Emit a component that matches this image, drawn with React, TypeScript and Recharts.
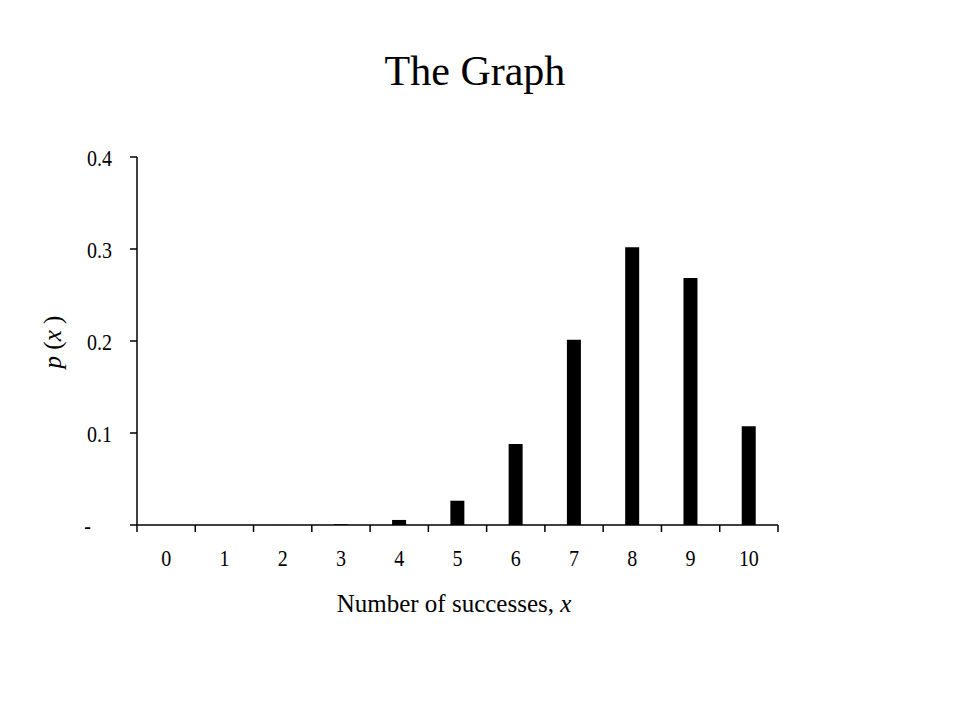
import { BarChart, Bar, XAxis, YAxis } from "recharts"

const successes = ["0", "1", "2", "3", "4", "5", "6", "7", "8", "9", "10"]
const probabilities = [0.0000001, 0.000004, 0.00007, 0.0008, 0.0055, 0.0264, 0.0881, 0.2013, 0.302, 0.2684, 0.1074]
const yTicks = [0, 0.1, 0.2, 0.3, 0.4]

const data = successes.map((x, i) => ({ x, p: probabilities[i] }))

const serif = "'Liberation Serif', 'Times New Roman', serif"

// the tick labels in the reference are a bit taller than they are wide
const TallText = ({ x, y, anchor, children }: any) => (
    <g transform={`translate(${x},${y}) scale(1,1.2)`}>
        <text x={0} y={0} textAnchor={anchor} dominantBaseline="central" fontFamily={serif} fontSize={20} fill="#000">
            {children}
        </text>
    </g>
)

const XTick = ({ x, y, payload, index }: any) => {
    const half = payload && payload.offset ? payload.offset : 641 / 22
    return (
        <g>
            <line x1={x - half} x2={x - half} y1={y} y2={y + 7} stroke="#000" strokeWidth={1.5} />
            {index === successes.length - 1 && (
                <line x1={x + half} x2={x + half} y1={y} y2={y + 7} stroke="#000" strokeWidth={1.5} />
            )}
            <TallText x={x} y={y + 33} anchor="middle">
                {payload.value}
            </TallText>
        </g>
    )
}

const YTick = ({ x, y, payload }: any) => {
    const zero = payload.value === 0
    return (
        <TallText x={zero ? x - 21 : x} y={y + 1} anchor="end">
            {zero ? "-" : payload.value.toFixed(1)}
        </TallText>
    )
}

export default function App() {
    return (
        <div style={{ position: "relative", width: 944, height: 704, background: "#fff" }}>
            <BarChart width={944} height={704} data={data} margin={{ top: 149, right: 174, bottom: 157, left: 69 }}>
                <XAxis
                    dataKey="x"
                    height={30}
                    tickLine={false}
                    tickSize={0}
                    tickMargin={0}
                    axisLine={{ stroke: "#000", strokeWidth: 1.5 }}
                    tick={<XTick />}
                    interval={0}
                />
                <YAxis
                    width={60}
                    domain={[0, 0.4]}
                    ticks={yTicks}
                    tickSize={7}
                    tickMargin={18}
                    tickLine={{ stroke: "#000", strokeWidth: 1.5 }}
                    axisLine={{ stroke: "#000", strokeWidth: 1.5 }}
                    tick={<YTick />}
                    interval={0}
                />
                <Bar dataKey="p" fill="#000" barSize={14} isAnimationActive={false} />
            </BarChart>
            <svg width={944} height={704} style={{ position: "absolute", left: 0, top: 0, pointerEvents: "none" }}>
                <text x={467} y={77} textAnchor="middle" fontFamily={serif} fontSize={42} fill="#000">
                    The Graph
                </text>
                <text x={446} y={604} textAnchor="middle" fontFamily={serif} fontSize={25} fill="#000">
                    Number of successes, <tspan fontStyle="italic">x</tspan>
                </text>
                <text
                    x={44}
                    y={334}
                    textAnchor="middle"
                    dominantBaseline="central"
                    transform="rotate(-90 44 334)"
                    fontFamily={serif}
                    fontSize={25}
                    fill="#000"
                >
                    <tspan fontStyle="italic">p</tspan> (<tspan fontStyle="italic">x</tspan> )
                </text>
            </svg>
        </div>
    )
}
